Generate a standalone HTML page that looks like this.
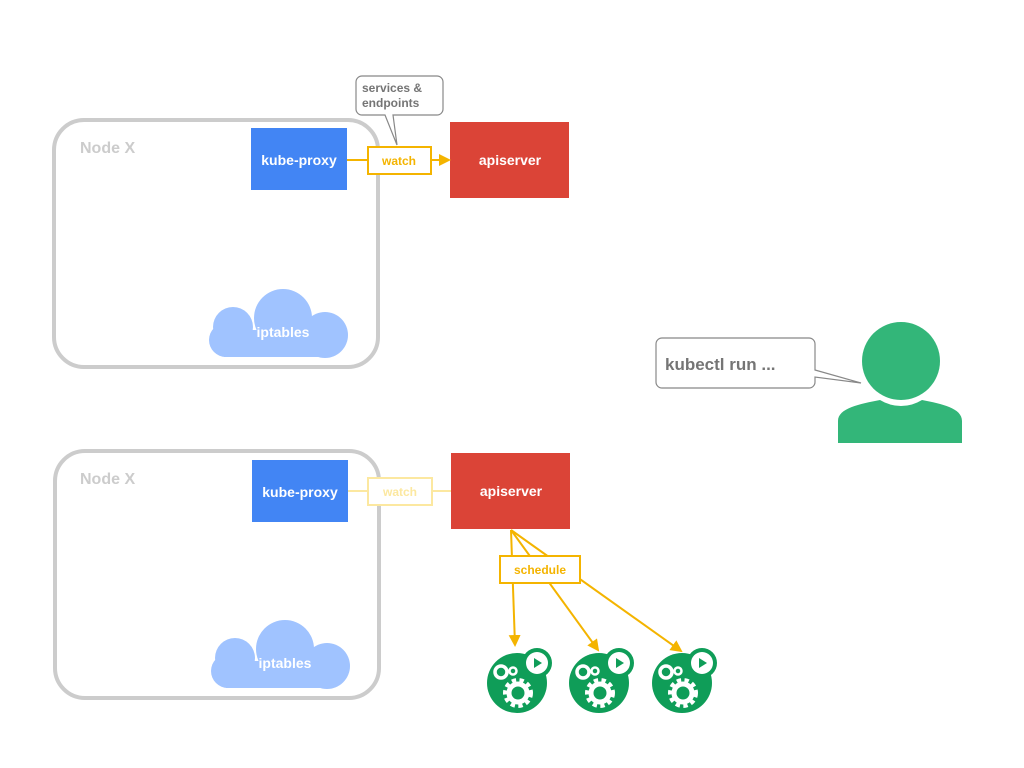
<!DOCTYPE html>
<html><head><style>body{margin:0;background:#fff}svg{display:block}text{font-family:"Liberation Sans",sans-serif;font-weight:bold}</style></head><body>
<svg width="1024" height="768" viewBox="0 0 1024 768">
<defs>
<marker id="a2" markerWidth="12" markerHeight="12" refX="10" refY="6" orient="auto" markerUnits="userSpaceOnUse"><path d="M0,0 L12,6 L0,12z" fill="#f4b400"/></marker>
<g id="cloud" fill="#a0c3ff">
<circle cx="233" cy="327" r="20"/>
<circle cx="283" cy="318" r="29"/>
<circle cx="325" cy="335" r="23"/>
<rect x="224" y="330" width="101" height="27"/>
<circle cx="226" cy="340" r="17"/>
</g>
<g id="pod">
<circle cx="0" cy="0" r="30" fill="#0f9d58"/>
<circle cx="20" cy="-20" r="15" fill="#0f9d58"/>
<circle cx="20" cy="-20" r="11" fill="#fff"/>
<path d="M17,-25 L25,-20 L17,-15z" fill="#0f9d58"/>
<circle cx="1" cy="10" r="12" fill="none" stroke="#fff" stroke-width="6" stroke-dasharray="4 3.2"/>
<circle cx="1" cy="10" r="9" fill="none" stroke="#fff" stroke-width="5"/>
<circle cx="-16" cy="-11" r="6" fill="none" stroke="#fff" stroke-width="3.5"/>
<circle cx="-4" cy="-12" r="3.5" fill="none" stroke="#fff" stroke-width="2.5"/>
</g>
</defs>
<rect x="54" y="120" width="324" height="247" rx="30" fill="none" stroke="#ccc" stroke-width="4"/>
<text x="80" y="153" font-size="16" fill="#ccc">Node X</text>
<rect x="251" y="128" width="96" height="62" fill="#4285f4"/>
<text x="299" y="165" font-size="14" fill="#fff" text-anchor="middle">kube-proxy</text>
<rect x="450" y="122" width="119" height="76" fill="#db4437"/>
<text x="510" y="165" font-size="14" fill="#fff" text-anchor="middle">apiserver</text>
<line x1="347" y1="160" x2="368" y2="160" stroke="#f4b400" stroke-width="2"/>
<rect x="368" y="147" width="63" height="27" fill="#fff" stroke="#f4b400" stroke-width="2"/>
<text x="399" y="165" font-size="12" fill="#f4b400" text-anchor="middle">watch</text>
<line x1="431" y1="160" x2="449" y2="160" stroke="#f4b400" stroke-width="2" marker-end="url(#a2)"/>
<path d="M362,76 H437 a6,6 0 0 1 6,6 V109 a6,6 0 0 1 -6,6 H393 L397,145 L385,115 H362 a6,6 0 0 1 -6,-6 V82 a6,6 0 0 1 6,-6z" fill="#fff" stroke="#888" stroke-width="1.2"/>
<text x="362" y="92" font-size="12" fill="#757575">services &amp;</text>
<text x="362" y="107" font-size="12" fill="#757575">endpoints</text>
<use href="#cloud"/>
<text x="283" y="337" font-size="14" fill="#fff" text-anchor="middle">iptables</text>
<rect x="55" y="451" width="324" height="247" rx="30" fill="none" stroke="#ccc" stroke-width="4"/>
<text x="80" y="484" font-size="16" fill="#ccc">Node X</text>
<rect x="252" y="460" width="96" height="62" fill="#4285f4"/>
<text x="300" y="497" font-size="14" fill="#fff" text-anchor="middle">kube-proxy</text>
<rect x="451" y="453" width="119" height="76" fill="#db4437"/>
<text x="511" y="496" font-size="14" fill="#fff" text-anchor="middle">apiserver</text>
<line x1="348" y1="491" x2="451" y2="491" stroke="#fce8a0" stroke-width="2"/>
<rect x="368" y="478" width="64" height="27" fill="#fff" stroke="#fce8a0" stroke-width="2"/>
<text x="400" y="496" font-size="12" fill="#fce8a0" text-anchor="middle">watch</text>
<g transform="translate(2,331)"><use href="#cloud"/></g>
<text x="285" y="668" font-size="14" fill="#fff" text-anchor="middle">iptables</text>
<g stroke="#f4b400" stroke-width="2" fill="none">
<line x1="511" y1="530" x2="515" y2="645" marker-end="url(#a2)"/>
<line x1="511" y1="530" x2="598" y2="650" marker-end="url(#a2)"/>
<line x1="511" y1="530" x2="681" y2="651" marker-end="url(#a2)"/>
</g>
<rect x="500" y="556" width="80" height="27" fill="#fff" stroke="#f4b400" stroke-width="2"/>
<text x="540" y="574" font-size="12" fill="#f4b400" text-anchor="middle">schedule</text>
<use href="#pod" x="517" y="683"/>
<use href="#pod" x="599" y="683"/>
<use href="#pod" x="682" y="683"/>
<circle cx="901" cy="361" r="39" fill="#33b679"/>
<path d="M838,443 V421 C838,408 860,404 880,400 A40,40 0 0 0 922,400 C942,404 962,408 962,421 V443z" fill="#33b679"/>
<path d="M662,338 H809 a6,6 0 0 1 6,6 V370 L861,383 L815,377 V382 a6,6 0 0 1 -6,6 H662 a6,6 0 0 1 -6,-6 V344 a6,6 0 0 1 6,-6z" fill="#fff" stroke="#888" stroke-width="1.2"/>
<text x="665" y="370" font-size="17" fill="#757575">kubectl run ...</text>
</svg>
</body></html>
